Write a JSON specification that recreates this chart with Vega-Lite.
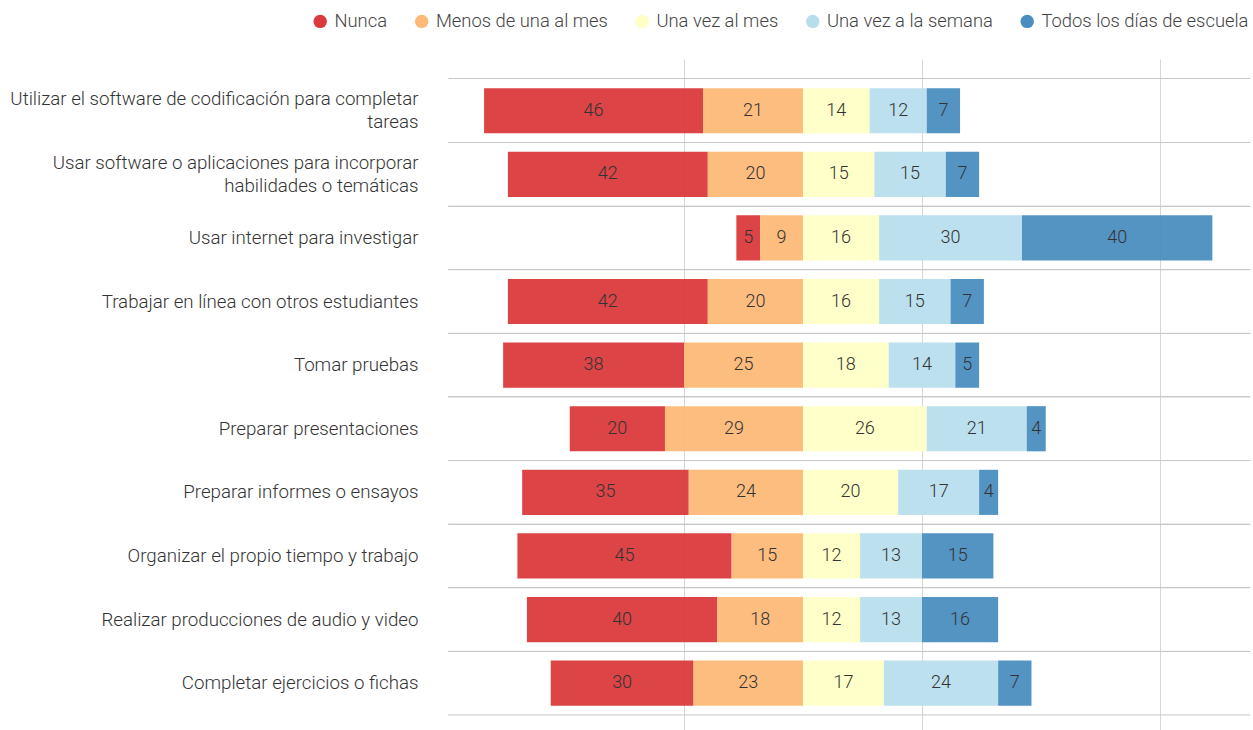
{
  "$schema": "https://vega.github.io/schema/vega-lite/v6.json",
  "width": 802,
  "height": 671,
  "autosize": "none",
  "padding": {"left": 448, "top": 59, "right": 3, "bottom": 0},
  "config": {"view": {"stroke": null}, "font": "Roboto"},
  "title": {"text": "EN PORCENTAJES", "anchor": "start", "frame": "group", "dx": -350, "offset": 56.5, "baseline": "alphabetic", "fontSize": 13, "fontWeight": 400, "color": "#333333"},
  "data": {"values": [
    {"actividad": "Utilizar el software de codificación para completar|tareas", "frecuencia": "Nunca", "pct": 46},
    {"actividad": "Utilizar el software de codificación para completar|tareas", "frecuencia": "Menos de una al mes", "pct": 21},
    {"actividad": "Utilizar el software de codificación para completar|tareas", "frecuencia": "Una vez al mes", "pct": 14},
    {"actividad": "Utilizar el software de codificación para completar|tareas", "frecuencia": "Una vez a la semana", "pct": 12},
    {"actividad": "Utilizar el software de codificación para completar|tareas", "frecuencia": "Todos los días de escuela", "pct": 7},
    {"actividad": "Usar software o aplicaciones para incorporar|habilidades o temáticas", "frecuencia": "Nunca", "pct": 42},
    {"actividad": "Usar software o aplicaciones para incorporar|habilidades o temáticas", "frecuencia": "Menos de una al mes", "pct": 20},
    {"actividad": "Usar software o aplicaciones para incorporar|habilidades o temáticas", "frecuencia": "Una vez al mes", "pct": 15},
    {"actividad": "Usar software o aplicaciones para incorporar|habilidades o temáticas", "frecuencia": "Una vez a la semana", "pct": 15},
    {"actividad": "Usar software o aplicaciones para incorporar|habilidades o temáticas", "frecuencia": "Todos los días de escuela", "pct": 7},
    {"actividad": "Usar internet para investigar", "frecuencia": "Nunca", "pct": 5},
    {"actividad": "Usar internet para investigar", "frecuencia": "Menos de una al mes", "pct": 9},
    {"actividad": "Usar internet para investigar", "frecuencia": "Una vez al mes", "pct": 16},
    {"actividad": "Usar internet para investigar", "frecuencia": "Una vez a la semana", "pct": 30},
    {"actividad": "Usar internet para investigar", "frecuencia": "Todos los días de escuela", "pct": 40},
    {"actividad": "Trabajar en línea con otros estudiantes", "frecuencia": "Nunca", "pct": 42},
    {"actividad": "Trabajar en línea con otros estudiantes", "frecuencia": "Menos de una al mes", "pct": 20},
    {"actividad": "Trabajar en línea con otros estudiantes", "frecuencia": "Una vez al mes", "pct": 16},
    {"actividad": "Trabajar en línea con otros estudiantes", "frecuencia": "Una vez a la semana", "pct": 15},
    {"actividad": "Trabajar en línea con otros estudiantes", "frecuencia": "Todos los días de escuela", "pct": 7},
    {"actividad": "Tomar pruebas", "frecuencia": "Nunca", "pct": 38},
    {"actividad": "Tomar pruebas", "frecuencia": "Menos de una al mes", "pct": 25},
    {"actividad": "Tomar pruebas", "frecuencia": "Una vez al mes", "pct": 18},
    {"actividad": "Tomar pruebas", "frecuencia": "Una vez a la semana", "pct": 14},
    {"actividad": "Tomar pruebas", "frecuencia": "Todos los días de escuela", "pct": 5},
    {"actividad": "Preparar presentaciones", "frecuencia": "Nunca", "pct": 20},
    {"actividad": "Preparar presentaciones", "frecuencia": "Menos de una al mes", "pct": 29},
    {"actividad": "Preparar presentaciones", "frecuencia": "Una vez al mes", "pct": 26},
    {"actividad": "Preparar presentaciones", "frecuencia": "Una vez a la semana", "pct": 21},
    {"actividad": "Preparar presentaciones", "frecuencia": "Todos los días de escuela", "pct": 4},
    {"actividad": "Preparar informes o ensayos", "frecuencia": "Nunca", "pct": 35},
    {"actividad": "Preparar informes o ensayos", "frecuencia": "Menos de una al mes", "pct": 24},
    {"actividad": "Preparar informes o ensayos", "frecuencia": "Una vez al mes", "pct": 20},
    {"actividad": "Preparar informes o ensayos", "frecuencia": "Una vez a la semana", "pct": 17},
    {"actividad": "Preparar informes o ensayos", "frecuencia": "Todos los días de escuela", "pct": 4},
    {"actividad": "Organizar el propio tiempo y trabajo", "frecuencia": "Nunca", "pct": 45},
    {"actividad": "Organizar el propio tiempo y trabajo", "frecuencia": "Menos de una al mes", "pct": 15},
    {"actividad": "Organizar el propio tiempo y trabajo", "frecuencia": "Una vez al mes", "pct": 12},
    {"actividad": "Organizar el propio tiempo y trabajo", "frecuencia": "Una vez a la semana", "pct": 13},
    {"actividad": "Organizar el propio tiempo y trabajo", "frecuencia": "Todos los días de escuela", "pct": 15},
    {"actividad": "Realizar producciones de audio y video", "frecuencia": "Nunca", "pct": 40},
    {"actividad": "Realizar producciones de audio y video", "frecuencia": "Menos de una al mes", "pct": 18},
    {"actividad": "Realizar producciones de audio y video", "frecuencia": "Una vez al mes", "pct": 12},
    {"actividad": "Realizar producciones de audio y video", "frecuencia": "Una vez a la semana", "pct": 13},
    {"actividad": "Realizar producciones de audio y video", "frecuencia": "Todos los días de escuela", "pct": 16},
    {"actividad": "Completar ejercicios o fichas", "frecuencia": "Nunca", "pct": 30},
    {"actividad": "Completar ejercicios o fichas", "frecuencia": "Menos de una al mes", "pct": 23},
    {"actividad": "Completar ejercicios o fichas", "frecuencia": "Una vez al mes", "pct": 17},
    {"actividad": "Completar ejercicios o fichas", "frecuencia": "Una vez a la semana", "pct": 24},
    {"actividad": "Completar ejercicios o fichas", "frecuencia": "Todos los días de escuela", "pct": 7}
  ]},
  "transform": [
    {"calculate": "indexof(['Menos de una al mes','Nunca','Una vez al mes','Una vez a la semana','Todos los días de escuela'], datum.frecuencia)", "as": "orden"},
    {"calculate": "datum.orden < 2 ? -datum.pct : datum.pct", "as": "v"},
    {"stack": "v", "groupby": ["actividad"], "sort": [{"field": "orden", "order": "ascending"}], "as": ["x0", "x1"]},
    {"calculate": "(datum.x0 + datum.x1) / 2", "as": "xm"}
  ],
  "layer": [
    {
      "mark": {"type": "bar", "height": {"band": 0.71}, "opacity": 0.95},
      "encoding": {
        "y": {
          "field": "actividad", "type": "nominal", "sort": null,
          "scale": {"paddingInner": 0, "paddingOuter": 0.275, "align": 0.57},
          "axis": {
            "title": null, "labelExpr": "split(datum.label, '|')", "labelFontSize": 18.7, "labelFontWeight": 300,
            "labelColor": "#333333", "labelPadding": 30, "labelLimit": 600, "labelLineHeight": 23,
            "labelOffset": {"condition": {"test": "indexof(datum.value, '|') >= 0", "value": -11.5}, "value": 0},
            "ticks": false, "domain": false, "grid": true, "gridColor": "#c8c8c8", "bandPosition": 0
          }
        },
        "x": {
          "field": "x0", "type": "quantitative",
          "scale": {"domain": [-74.58, 93.91], "nice": false, "zero": false},
          "axis": {"values": [-25, 25, 75], "grid": true, "gridColor": "#d6d6d6", "labels": false, "ticks": false, "domain": false, "title": null}
        },
        "x2": {"field": "x1"},
        "color": {
          "field": "frecuencia", "type": "nominal",
          "scale": {
            "domain": ["Nunca", "Menos de una al mes", "Una vez al mes", "Una vez a la semana", "Todos los días de escuela"],
            "range": ["#db3a3c", "#fdb978", "#ffffc6", "#b8deec", "#4a8ec0"]
          },
          "legend": {
            "title": null, "orient": "none", "direction": "horizontal", "legendX": -137, "legendY": -47,
            "symbolType": "circle", "symbolSize": 180, "symbolOpacity": 1, "symbolStrokeWidth": 0,
            "labelFontSize": 18.4, "labelFontWeight": 300, "labelColor": "#444444", "labelOffset": 5,
            "columnPadding": 24.5, "labelLimit": 400
          }
        }
      }
    },
    {
      "mark": {"type": "text", "fontSize": 18, "fontWeight": 300, "color": "#333333", "align": "center", "baseline": "middle"},
      "encoding": {
        "y": {"field": "actividad", "type": "nominal", "sort": null},
        "x": {"field": "xm", "type": "quantitative"},
        "text": {"field": "pct", "type": "quantitative"}
      }
    },
    {
      "transform": [{"filter": "datum.frecuencia == 'Nunca'"}],
      "mark": {"type": "rule", "color": "#c8c8c8", "strokeWidth": 1},
      "encoding": {
        "y": {"field": "actividad", "type": "nominal", "sort": null, "bandPosition": 1}
      }
    }
  ]
}
